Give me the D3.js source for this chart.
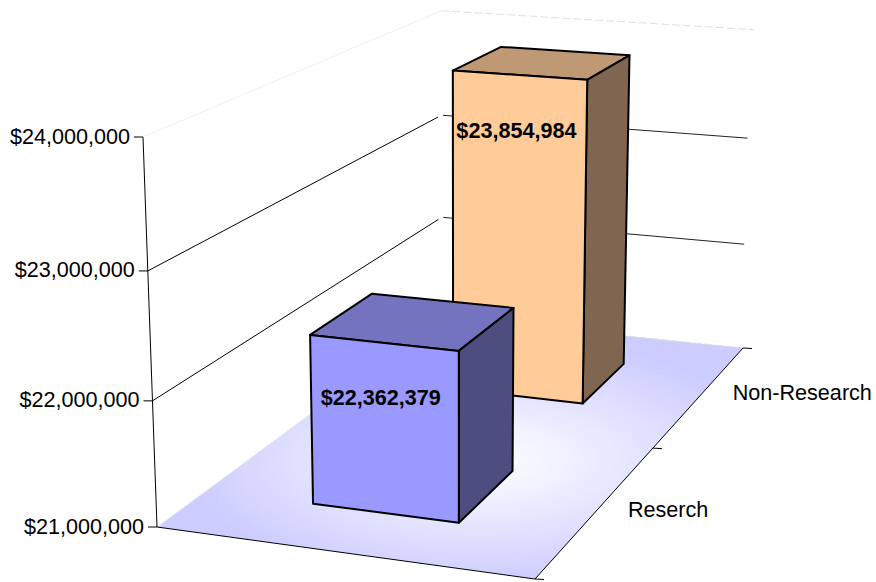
<!DOCTYPE html>
<html>
<head>
<meta charset="utf-8">
<script src="https://d3js.org/d3.v7.min.js"></script>
<style>
    html, body { margin: 0; padding: 0; background: #fff; }
    svg { display: block; }
    text { font-family: "Liberation Sans", Arial, sans-serif; font-size: 21.6px; fill: #000; }
    .value-label { font-weight: bold; }
</style>
</head>
<body>
<svg id="chart" width="876" height="582"></svg>
<script>
const categories = ['Reserch', 'Non-Research'];
const values = [22362379, 23854984];
const tickValues = [21000000, 22000000, 23000000, 24000000];
const frontColors = ['#9999ff', '#ffcc99'];
const topColors = ['#7373bf', '#bf9973'];
const sideColors = ['#4d4d80', '#806650'];

// Screen position of the chart box corners, used to set up the perspective
const origin = [157, 527];
const rightFront = [535, 579];
const rightBack = [743, 348];
const leftBack = [442, 317];
const axisTop = [143, 137];
const heightWeight = 0.956;

// Weights for the floor corners, so the four of them land where they should
const ax = rightFront[0] - rightBack[0], ay = rightFront[1] - rightBack[1];
const bx = leftBack[0] - rightBack[0], by = leftBack[1] - rightBack[1];
const cx = origin[0] - rightBack[0], cy = origin[1] - rightBack[1];
const det = ax * by - ay * bx;
const widthWeight = (cx * by - cy * bx) / det;
const depthWeight = (ax * cy - ay * cx) / det;

// u = across the floor, v = height, w = depth, all 0 to 1
function project(u, v, w) {
    const d = 1 + u * (widthWeight - 1) + v * (heightWeight - 1) + w * (depthWeight - 1);
    return [0, 1].map(i => (origin[i]
        + u * (widthWeight * rightFront[i] - origin[i])
        + v * (heightWeight * axisTop[i] - origin[i])
        + w * (depthWeight * leftBack[i] - origin[i])) / d);
}

const y = d3.scaleLinear().domain([21000000, 24000000]).range([0, 1]);
const z = d3.scaleBand().domain(categories).range([0, 1]).paddingInner(0.6).paddingOuter(0.28);
const x = d3.scaleBand().domain(['Total']).range([0, 1]).paddingInner(0).paddingOuter(0.75);
const money = d3.format('$,');

const svg = d3.select('#chart');
const line = d3.line();
const closed = pts => line(pts) + 'Z';

// Floor gradient
const grad = svg.append('defs').append('radialGradient')
    .attr('id', 'floorFill')
    .attr('gradientUnits', 'userSpaceOnUse')
    .attr('cx', 0).attr('cy', 0).attr('r', 1)
    .attr('gradientTransform', 'translate(480,460) scale(300,125)');
grad.append('stop').attr('offset', 0).attr('stop-color', '#ffffff');
grad.append('stop').attr('offset', 1).attr('stop-color', '#ccccff');

svg.append('path')
    .attr('d', closed([project(0, 0, 0), project(1, 0, 0), project(1, 0, 1), project(0, 0, 1)]))
    .attr('fill', 'url(#floorFill)');

// Walls
const grid = svg.append('g').attr('fill', 'none');
const addLine = (a, b, color, width, dash) => grid.append('path')
    .attr('d', line([a, b]))
    .attr('stroke', color)
    .attr('stroke-width', width)
    .attr('stroke-dasharray', dash || null);

tickValues.forEach(t => {
    const v = y(t);
    if (t === 24000000) {
        addLine(project(0, v, 0), project(0, v, 1), '#e4e4e4', 1, '1 1');
        addLine(project(0, v, 1), project(1, v, 1), '#e0e0e0', 1, '8 3');
    } else if (t === 21000000) {
        addLine(project(0, v, 0), project(0, v, 1), '#ececec', 1);
        addLine(project(0, v, 1), project(1, v, 1), '#dcdcdc', 1, '8 3');
    } else {
        addLine(project(0, v, 0), project(0, v, 0.985), '#000', 1);
        addLine(project(0.005, v, 1), project(0.993, v, 1), '#222', 1);
    }
});

// Axes
addLine(project(0, 0, 0), project(0, 1, 0), '#000', 1);
addLine(project(0, 0, 0), project(1, 0, 0), '#000', 1);
addLine(project(1, 0, 0), project(1, 0, 1), '#000', 1);

tickValues.forEach(t => {
    const p = project(0, y(t), 0);
    addLine([p[0] - 9, p[1]], p, '#000', 1);
    svg.append('text')
        .attr('x', p[0] - 13)
        .attr('y', p[1] - 1)
        .attr('dy', '0.35em')
        .attr('text-anchor', 'end')
        .text(money(t));
});

[0, 0.5, 1].forEach(w => {
    const p = project(1, 0, w);
    addLine(p, [p[0] + 9, p[1] + 0.5], '#000', 1);
});

categories.forEach(c => {
    const p = project(1, 0, z(c) + z.bandwidth() / 2);
    svg.append('text')
        .attr('x', p[0] + 31)
        .attr('y', p[1] - 1)
        .attr('dy', '0.35em')
        .text(c);
});

// Bars, back one first
const bars = categories.map((c, i) => ({ name: c, value: values[i], i }))
    .sort((a, b) => z(b.name) - z(a.name));

const bar = svg.selectAll('g.bar')
    .data(bars)
    .join('g')
    .attr('class', 'bar')
    .attr('stroke', '#000')
    .attr('stroke-width', 2)
    .attr('stroke-linejoin', 'round');

const u0 = x('Total'), u1 = u0 + x.bandwidth();

bar.append('path')
    .attr('fill', d => topColors[d.i])
    .attr('d', d => {
        const v = y(d.value), w0 = z(d.name), w1 = w0 + z.bandwidth();
        return closed([project(u0, v, w0), project(u1, v, w0), project(u1, v, w1), project(u0, v, w1)]);
    });

bar.append('path')
    .attr('fill', d => sideColors[d.i])
    .attr('d', d => {
        const v = y(d.value), w0 = z(d.name), w1 = w0 + z.bandwidth();
        return closed([project(u1, v, w0), project(u1, v, w1), project(u1, 0, w1), project(u1, 0, w0)]);
    });

bar.append('path')
    .attr('fill', d => frontColors[d.i])
    .attr('d', d => {
        const v = y(d.value), w0 = z(d.name);
        return closed([project(u0, v, w0), project(u1, v, w0), project(u1, 0, w0), project(u0, 0, w0)]);
    });

bar.append('text')
    .attr('class', 'value-label')
    .attr('stroke', 'none')
    .attr('text-anchor', 'middle')
    .attr('transform', d => {
        const p = project((u0 + u1) / 2, y(d.value), z(d.name));
        return `translate(${p[0] - 3},${p[1] + 55})`;
    })
    .attr('dy', '0.35em')
    .text(d => money(d.value));
</script>
</body>
</html>
